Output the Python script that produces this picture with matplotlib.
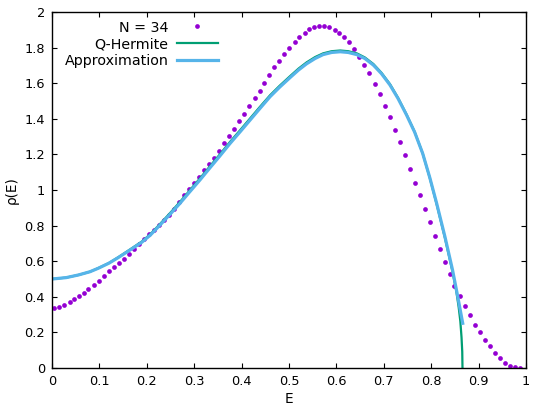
import matplotlib
matplotlib.use("Agg")
import matplotlib.pyplot as plt

# N = 34 data points
E_pts = [0.004, 0.015, 0.026, 0.037, 0.047, 0.056, 0.067, 0.077, 0.088, 0.099,
         0.109, 0.120, 0.131, 0.141, 0.152, 0.162, 0.173, 0.184, 0.194, 0.205,
         0.215, 0.225, 0.236, 0.247, 0.257, 0.267, 0.278, 0.289, 0.300, 0.311,
         0.321, 0.332, 0.342, 0.352, 0.363, 0.373, 0.384, 0.395, 0.406, 0.416,
         0.428, 0.438, 0.448, 0.458, 0.468, 0.479, 0.489, 0.501, 0.512, 0.522,
         0.533, 0.543, 0.553, 0.564, 0.574, 0.585, 0.596, 0.606, 0.617, 0.627,
         0.638, 0.648, 0.659, 0.669, 0.681, 0.691, 0.702, 0.713, 0.724, 0.734,
         0.744, 0.755, 0.765, 0.776, 0.786, 0.797, 0.808, 0.819, 0.830, 0.839,
         0.849, 0.861, 0.872, 0.882, 0.893, 0.904, 0.914, 0.925, 0.935, 0.945,
         0.956, 0.966, 0.977, 0.987]
rho_pts = [0.338, 0.343, 0.355, 0.371, 0.386, 0.402, 0.422, 0.441, 0.465, 0.490,
           0.516, 0.542, 0.565, 0.591, 0.613, 0.642, 0.670, 0.696, 0.724, 0.751,
           0.777, 0.803, 0.833, 0.862, 0.892, 0.935, 0.970, 1.006, 1.039, 1.073,
           1.111, 1.146, 1.182, 1.221, 1.263, 1.302, 1.343, 1.388, 1.428, 1.473,
           1.518, 1.559, 1.602, 1.645, 1.690, 1.726, 1.766, 1.800, 1.835, 1.862,
           1.884, 1.904, 1.916, 1.921, 1.921, 1.916, 1.900, 1.885, 1.861, 1.831,
           1.795, 1.750, 1.705, 1.657, 1.598, 1.540, 1.474, 1.412, 1.339, 1.268,
           1.197, 1.120, 1.041, 0.972, 0.893, 0.818, 0.741, 0.668, 0.597, 0.529,
           0.461, 0.403, 0.347, 0.295, 0.242, 0.199, 0.154, 0.124, 0.084, 0.055,
           0.026, 0.010, 0.004, 0.000]

# Q-Hermite curve
E_qh = [0.0, 0.03, 0.056, 0.08, 0.098, 0.12, 0.14, 0.165, 0.189, 0.207,
        0.228, 0.25, 0.27, 0.29, 0.312, 0.333, 0.354, 0.375, 0.397, 0.418,
        0.439, 0.46, 0.48, 0.502, 0.52, 0.537, 0.555, 0.572, 0.59, 0.608,
        0.625, 0.643, 0.66, 0.678, 0.695, 0.713, 0.73, 0.748, 0.765, 0.782,
        0.797, 0.8115, 0.829, 0.845, 0.853, 0.858, 0.8615, 0.864, 0.8655, 0.866]
rho_qh = [0.499, 0.507, 0.522, 0.540, 0.561, 0.589, 0.622, 0.666, 0.709, 0.750,
          0.809, 0.873, 0.933, 0.996, 1.065, 1.133, 1.200, 1.269, 1.337, 1.403,
          1.469, 1.533, 1.586, 1.640, 1.683, 1.718, 1.748, 1.769, 1.781, 1.785,
          1.781, 1.769, 1.746, 1.709, 1.660, 1.596, 1.519, 1.425, 1.328, 1.206,
          1.068, 0.920, 0.730, 0.540, 0.430, 0.340, 0.260, 0.170, 0.090, 0.0]

# Approximation curve
E_ap = [0.0, 0.03, 0.056, 0.08, 0.098, 0.12, 0.14, 0.165, 0.189, 0.207,
        0.228, 0.25, 0.27, 0.29, 0.312, 0.333, 0.354, 0.375, 0.397, 0.418,
        0.439, 0.46, 0.48, 0.502, 0.52, 0.537, 0.555, 0.572, 0.59, 0.608,
        0.625, 0.643, 0.66, 0.678, 0.695, 0.713, 0.73, 0.748, 0.765, 0.782,
        0.797, 0.8115, 0.829, 0.845, 0.856, 0.8665]
rho_ap = [0.499, 0.507, 0.522, 0.540, 0.560, 0.588, 0.620, 0.663, 0.705, 0.745,
          0.803, 0.866, 0.925, 0.988, 1.056, 1.124, 1.191, 1.260, 1.328, 1.394,
          1.460, 1.525, 1.578, 1.632, 1.675, 1.710, 1.740, 1.762, 1.774, 1.778,
          1.774, 1.762, 1.740, 1.703, 1.655, 1.591, 1.515, 1.422, 1.326, 1.206,
          1.070, 0.925, 0.737, 0.550, 0.400, 0.250]

xticks = [0, 0.1, 0.2, 0.3, 0.4, 0.5, 0.6, 0.7, 0.8, 0.9, 1]
xticklabels = ["0", "0.1", "0.2", "0.3", "0.4", "0.5", "0.6", "0.7", "0.8", "0.9", "1"]
yticks = [0, 0.2, 0.4, 0.6, 0.8, 1, 1.2, 1.4, 1.6, 1.8, 2]
yticklabels = ["0", "0.2", "0.4", "0.6", "0.8", "1", "1.2", "1.4", "1.6", "1.8", "2"]

plt.rcParams['font.family'] = ['DejaVu Sans']
plt.rcParams['font.size'] = 9

fig = plt.figure(figsize=(5.45, 4.09), dpi=100)
ax = fig.add_axes([52 / 545, 1 - 367.7 / 409, (526 - 52) / 545, (367.7 - 12.3) / 409])

ax.plot(E_pts, rho_pts, linestyle='none', marker='o', markersize=3.4,
        color='#9400d3', markeredgewidth=0, label='N = 34')
ax.plot(E_qh, rho_qh, color='#009e73', linewidth=1.6, label='Q-Hermite')
ax.plot(E_ap, rho_ap, color='#56b4e9', linewidth=2.3, label='Approximation')

ax.set_xlim(0, 1)
ax.set_ylim(0, 2)
ax.set_xticks(xticks)
ax.set_xticklabels(xticklabels)
ax.set_yticks(yticks)
ax.set_yticklabels(yticklabels)
ax.tick_params(direction='in', length=3.6, width=0.8, top=True, right=True,
               labelsize=9.3, pad=5, colors='black')
for s in ax.spines.values():
    s.set_linewidth(1.0)

ax.set_xlabel('E', fontsize=9.8, labelpad=3)
ax.set_ylabel('ρ(E)', fontsize=9.8, labelpad=4)

leg = ax.legend(loc='upper right', bbox_to_anchor=(218 / 545, 1 - 20.5 / 409),
                bbox_transform=fig.transFigure, frameon=False, markerfirst=False,
                fontsize=10.3, handlelength=2.9, handletextpad=0.55,
                labelspacing=0.2, borderpad=0, borderaxespad=0, numpoints=1)

fig.savefig('out.png', dpi=100)
